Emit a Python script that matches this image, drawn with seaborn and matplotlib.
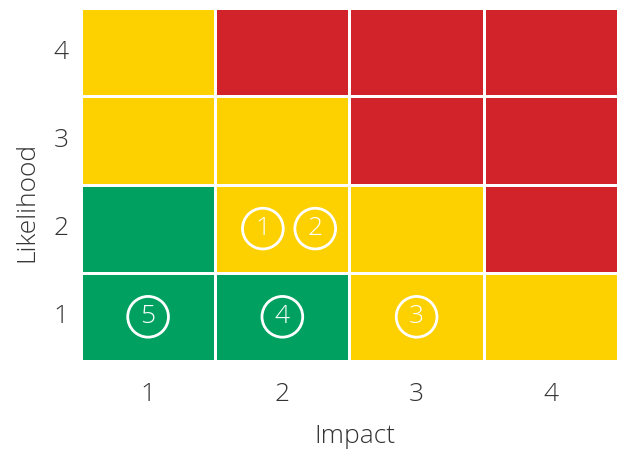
import numpy as np
import pandas as pd
import matplotlib
matplotlib.use("Agg")
import matplotlib.pyplot as plt
from matplotlib.colors import ListedColormap
import seaborn as sns

# Risk matrix: rows are likelihood (top = 4), columns are impact 1..4
impact_levels = [1, 2, 3, 4]
likelihood_levels = [4, 3, 2, 1]
# 0 = low (green), 1 = medium (yellow), 2 = high (red)
row_l4 = [1, 2, 2, 2]
row_l3 = [1, 1, 2, 2]
row_l2 = [0, 1, 1, 2]
row_l1 = [0, 0, 1, 1]

# Plotted risks
risk_ids = ["1", "2", "3", "4", "5"]
risk_impact = [2, 2, 3, 2, 1]
risk_likelihood = [2, 2, 1, 1, 1]

sns.set_theme(style="white")
plt.rcParams["font.family"] = ["Open Sans", "DejaVu Sans"]

grid = pd.DataFrame([row_l4, row_l3, row_l2, row_l1],
                    index=likelihood_levels, columns=impact_levels)

cmap = ListedColormap(["#00A160", "#FDD000", "#D2232B"])

fig = plt.figure(figsize=(6.18, 4.5), dpi=100)
ax = fig.add_axes([0.131, 0.198, 0.869, 0.784])
sns.heatmap(grid, cmap=cmap, vmin=-0.5, vmax=2.5, cbar=False,
            linewidths=2, linecolor="white", ax=ax)

text_color = "#333333"
fs = 19
weight = "light"
ax.set_xlabel("Impact", fontsize=fs, color=text_color, fontweight=weight)
ax.set_ylabel("Likelihood", fontsize=fs, color=text_color, fontweight=weight)
ax.xaxis.set_label_coords(0.51, -0.178)
ax.yaxis.set_label_coords(-0.078, 0.45)
ax.tick_params(axis="both", length=0, labelsize=fs, labelcolor=text_color)
ax.tick_params(axis="x", pad=15)
ax.tick_params(axis="y", pad=9, labelrotation=0)
for lbl in ax.get_xticklabels() + ax.get_yticklabels():
    lbl.set_fontweight(weight)

# place each risk in its cell, spreading risks that share a cell
cells = {}
for rid, imp, lik in zip(risk_ids, risk_impact, risk_likelihood):
    cells.setdefault((imp, lik), []).append(rid)

spacing = 0.39
for (imp, lik), ids in cells.items():
    cx = impact_levels.index(imp) + 0.5
    cy = likelihood_levels.index(lik) + 0.5
    n = len(ids)
    shift = 0.05 if n > 1 else 0.0
    for k, rid in enumerate(ids):
        x = cx + shift + (k - (n - 1) / 2) * spacing
        ax.scatter([x], [cy], s=860, facecolors="none", edgecolors="white",
                   linewidths=2, zorder=3)
        ax.text(x, cy, rid, ha="center", va="center", color="white",
                fontsize=fs, fontweight=weight, zorder=4)

fig.savefig("out.png", dpi=100)
